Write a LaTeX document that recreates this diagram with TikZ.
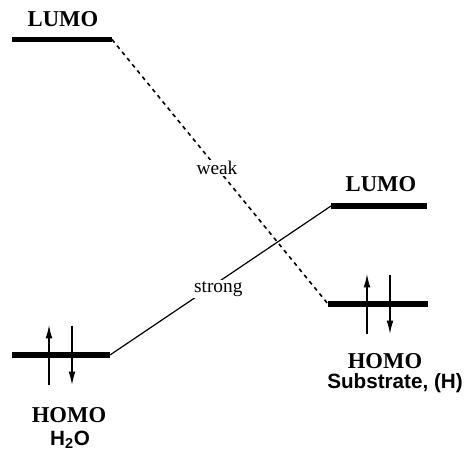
\documentclass[tikz,border=0pt]{standalone}
\usepackage{fontspec}
\setmainfont{Liberation Serif}
\setsansfont{Liberation Sans}
\usetikzlibrary{arrows.meta}

\begin{document}
\begin{tikzpicture}[x=0.75pt, y=-0.75pt,
  level/.style={line width=3.8pt},
  spin/.style={line width=0.9pt, -{Latex[length=10pt,width=5pt]}},
  orb/.style={font=\bfseries\fontsize{17}{17}\selectfont, inner sep=0pt},
  mol/.style={font=\sffamily\bfseries\fontsize{15.5}{15.5}\selectfont, inner sep=0pt},
  tag/.style={font=\fontsize{14.5}{14.5}\selectfont, fill=white, inner sep=1pt}]
\useasboundingbox (0,0) rectangle (465,456);
% level ends
\coordinate (wL1) at (12,39.5);  \coordinate (wL2) at (112,39.5);
\coordinate (wH1) at (12,355);   \coordinate (wH2) at (110,355);
\coordinate (sL1) at (331,206);  \coordinate (sL2) at (427,206);
\coordinate (sH1) at (328,304);  \coordinate (sH2) at (428,304);
\foreach \a/\b in {wL1/wL2, wH1/wH2, sL1/sL2, sH1/sH2}
  \draw[level] (\a) -- (\b);
% interactions
\draw[line width=1.2pt, dash pattern=on 3pt off 3pt] (wL2) -- node[tag, pos=0.486] (weak) {weak} (sH1);
\draw[line width=0.9pt] (wH2) -- node[tag, pos=0.49, yshift=-5pt] (strong) {strong} (sL1);
% electrons
\foreach \x/\y in {49/355, 367/304} {
  \draw[spin] (\x,\y+30) -- (\x,\y-30);
  \draw[spin] (\x+23,\y-29) -- (\x+23,\y+30);
}
\node[orb] (lumoW) at (63,19.5) {LUMO};
\node[orb] (homoW) at (69,415) {HOMO};
\node[mol] (water) at (70,440) {H\textsubscript{2}O};
\node[orb] (lumoS) at (381,184) {LUMO};
\node[orb] (homoS) at (385,361) {HOMO};
\node[mol] (subst) at (395,383) {Substrate, (H)};
\end{tikzpicture}
\end{document}
